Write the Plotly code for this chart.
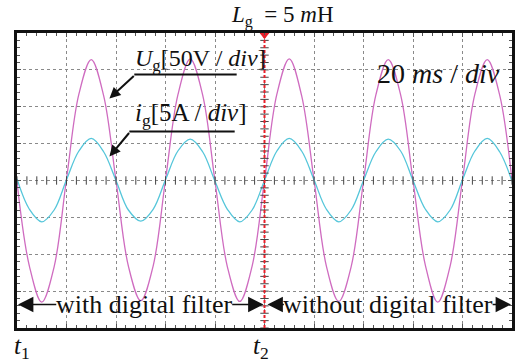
import plotly.graph_objects as go

# ---- data (time in ms, 20 ms/div) ----
t_ms = list(range(0, 205, 5))
u_g_volts = [-2, -116, -165, -117, 2, 117, 164, 115,
             0, -116, -163, -116, 1, 116, 165, 116,
             -1, -117, -164, -116, 0, 117, 165, 115,
             1, -116, -164, -117, -1, 116, 164, 116,
             0, -115, -165, -116, 1, 117, 164, 116,
             0]
i_g_amps = [0.2, -3.9, -5.6, -4.0, 0.1, 4.0, 5.7, 3.9,
            0.0, -4.0, -5.5, -3.9, 0.1, 4.0, 5.6, 3.9,
            -0.1, -3.9, -5.6, -4.0, 0.0, 4.0, 5.7, 4.0,
            0.1, -3.9, -5.6, -4.0, 0.0, 3.9, 5.6, 4.0,
            0.0, -3.9, -5.6, -4.0, 0.1, 4.0, 5.7, 3.9,
            -0.1]
V_PER_DIV = 50
A_PER_DIV = 5
MS_PER_DIV = 20
T1 = 0
T2 = 100
X_RANGE = [0, 200]
Y_RANGE = [-4, 4]

FONT = "Liberation Serif"
MAG = "#cf6cc0"
CYAN = "#55c6da"
INK = "#111"

u_div = [v / V_PER_DIV for v in u_g_volts]
i_div = [a / A_PER_DIV for a in i_g_amps]

fig = go.Figure()
fig.add_trace(go.Scatter(x=t_ms, y=u_div, mode="lines", line=dict(color=MAG, width=1.3, shape="spline"),
                         hoverinfo="skip"))
fig.add_trace(go.Scatter(x=t_ms, y=i_div, mode="lines", line=dict(color=CYAN, width=1.3, shape="spline"),
                         hoverinfo="skip"))

# center-axis tick marks
xt = [x / 10 for x in range(0, 2001, 40)]
fig.add_trace(go.Scatter(x=xt, y=[0] * len(xt), mode="markers",
                         marker=dict(symbol="line-ns-open", size=6, color="#444", line=dict(color="#444", width=1)),
                         hoverinfo="skip"))
yt = [y / 10 for y in range(-40, 41, 2)]
fig.add_trace(go.Scatter(x=[T2] * len(yt), y=yt, mode="markers",
                         marker=dict(symbol="line-ew-open", size=6, color="#444", line=dict(color="#444", width=1)),
                         hoverinfo="skip"))

# t2 marker line
fig.add_shape(type="line", x0=T2, x1=T2, y0=Y_RANGE[0], y1=Y_RANGE[1], xref="x", yref="y",
              line=dict(color="#e8202a", width=2, dash="3px,2px"))
fig.add_trace(go.Scatter(x=[T2], y=[Y_RANGE[1] - 0.05], mode="markers",
                         marker=dict(symbol="triangle-down", size=9, color="#e8202a"),
                         cliponaxis=False, hoverinfo="skip"))

W, H = 516, 364

def px_x(p):
    return (p - 17) / 498 * 200

def px_y(p):
    return (181 - p) / 36.875

def pap_x(p):
    return (p - 17) / 498

def pap_y(p):
    return (328 - p) / 295

ann = []
def label(text, x, y, size, anchor="center"):
    ann.append(dict(x=pap_x(x), y=pap_y(y), xref="paper", yref="paper", xanchor=anchor, yanchor="middle",
                    showarrow=False, text=text, font=dict(family=FONT, size=size, color=INK)))

label("<i>L</i><sub>g</sub>&nbsp; = 5 <i>m</i>H", 284, 17, 23)
label("<i>U</i><sub>g</sub>[50V / <i>div</i>]", 134, 60, 24, "left")
label("<i>i</i><sub>g</sub>[5A / <i>div</i>]", 134, 115, 25, "left")
label("20 <i>ms</i> / <i>div</i>", 377, 73, 28, "left")
label("with digital filter", 145, 304, 26)
label("without digital filter", 390, 304, 26)
label("<i>t</i><sub>1</sub>", 12, 347, 25, "left")
label("<i>t</i><sub>2</sub>", 252, 347, 25, "left")

def arrow(hx, hy, tx, ty, w, s):
    ann.append(dict(x=px_x(hx), y=px_y(hy), ax=px_x(tx), ay=px_y(ty), xref="x", yref="y",
                    axref="x", ayref="y", text="", showarrow=True, arrowhead=2,
                    arrowwidth=w, arrowsize=s, arrowcolor=INK, standoff=0, startstandoff=0))

arrow(110, 99, 136, 75, 2, 1.1)
arrow(110, 157, 131, 132, 2, 1.1)
arrow(18, 305, 58, 305, 1.4, 2.2)
arrow(265, 305, 232, 305, 1.4, 2.2)
arrow(269, 305, 287, 305, 1.4, 2.2)
arrow(514, 305, 494, 305, 1.4, 2.2)

fig.add_shape(type="line", x0=px_x(135), x1=px_x(238), y0=px_y(75), y1=px_y(75),
              xref="x", yref="y", line=dict(color=INK, width=2))
fig.add_shape(type="line", x0=px_x(130), x1=px_x(236), y0=px_y(132), y1=px_y(132),
              xref="x", yref="y", line=dict(color=INK, width=2))

axis_common = dict(showgrid=True, griddash="dot", gridcolor="#8a8a8a", gridwidth=1,
                   showticklabels=False, ticks="inside", ticklen=4, tickcolor="#555",
                   showline=True, linewidth=3, linecolor=INK, mirror="ticks",
                   zeroline=False)

fig.update_layout(
    width=W, height=H,
    margin=dict(l=17, r=1, t=33, b=36, pad=0),
    paper_bgcolor="white", plot_bgcolor="white",
    showlegend=False,
    xaxis=dict(range=X_RANGE, dtick=MS_PER_DIV, tick0=0,
               minor=dict(dtick=MS_PER_DIV / 5, ticks="inside", ticklen=3, tickcolor="#555", showgrid=False),
               **axis_common),
    yaxis=dict(range=Y_RANGE, dtick=1, tick0=0,
               minor=dict(dtick=0.2, ticks="inside", ticklen=3, tickcolor="#555", showgrid=False),
               **axis_common),
    annotations=ann,
)

fig.write_html("out.html")
